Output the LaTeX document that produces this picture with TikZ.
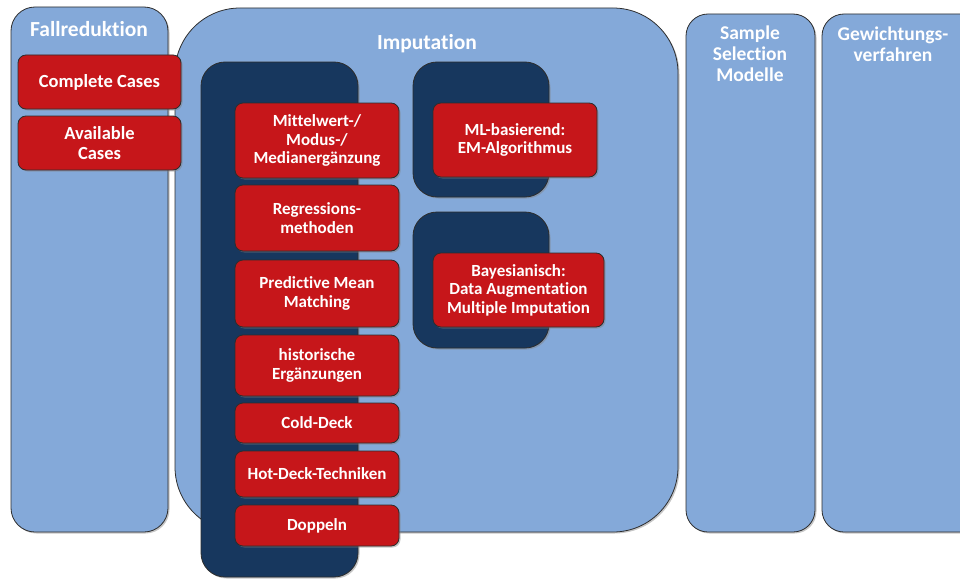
\documentclass[tikz,border=0pt]{standalone}
\usepackage{fontspec}
\setmainfont{Carlito}[Ligatures=NoCommon]
\usetikzlibrary{fit,shadows}
\definecolor{lightblue}{RGB}{132,169,217}
\definecolor{navy}{RGB}{23,55,94}
\definecolor{redfill}{RGB}{198,22,26}
\definecolor{edge}{RGB}{45,45,45}
\tikzset{
  shad/.style={drop shadow={opacity=0.45,shadow xshift=1.5pt,shadow yshift=-1.5pt}},
  outerbox/.style={draw=edge,line width=0.8pt,fill=lightblue,inner sep=0pt,shad},
  darkbox/.style={draw=edge,line width=0.8pt,fill=navy,inner sep=0pt,rounded corners=24pt,shad},
  redbox/.style={draw=edge,line width=0.8pt,fill=redfill,inner sep=0pt,rounded corners=8pt,shad},
  rtext/.style={text=white,font=\bfseries\fontsize{17}{18.5}\selectfont,align=center,inner sep=0pt},
  ftext/.style={rtext,font=\bfseries\fontsize{18.5}{20.5}\selectfont},
  title/.style={text=white,font=\bfseries\fontsize{19.5}{21}\selectfont,align=center,inner sep=0pt},
}
\begin{document}
\begin{tikzpicture}[x=1pt,y=-1pt]
\useasboundingbox (0,0) rectangle (960,578);
\clip (0,0) rectangle (960,578);
% outer containers
\node[outerbox,rounded corners=24pt,fit={(11,7)(168,532)}] (fall) {};
\node[outerbox,rounded corners=65pt,fit={(175,8)(678,532)}] (imp) {};
\node[outerbox,rounded corners=22pt,fit={(686,14)(815,532)}] (sample) {};
\node[outerbox,rounded corners=22pt,fit={(822,14)(985,532)}] (gew) {};
% titles
\node[title,font=\bfseries\fontsize{21.5}{23}\selectfont,anchor=base] (tfall) at (89,37) {Fallreduktion};
\node[title,font=\bfseries\fontsize{21.5}{23}\selectfont,anchor=base] (timp) at (427,50) {Imputation};
\node[title,anchor=north] (tsample) at (750,26) {Sample\\Selection\\Modelle};
\node[title,anchor=north] (tgew) at (893,27) {Gewichtungs-\\verfahren};
% Fallreduktion items
\node[redbox,fit={(18,55)(181,109)}] (cc) {};
\node[ftext] (cc-t) at (cc.center) {Complete Cases};
\node[redbox,fit={(18,116)(181,170)}] (ac) {};
\node[ftext] (ac-t) at (ac.center) {Available\\Cases};
% dark groups
\node[darkbox,fit={(201,62)(358,577)}] (d1) {};
\node[darkbox,fit={(413,62)(549,197)}] (d2) {};
\node[darkbox,fit={(413,212)(549,348)}] (d3) {};
% column items
\node[redbox,fit={(235,103)(399,178)}] (mw) {};
\node[rtext] (mw-t) at (mw.center) {Mittelwert-/\\Modus-/\\Medianergänzung};
\node[redbox,fit={(235,185)(399,251)}] (reg) {};
\node[rtext] (reg-t) at (reg.center) {Regressions-\\methoden};
\node[redbox,fit={(235,260)(399,327)}] (pmm) {};
\node[rtext] (pmm-t) at (pmm.center) {Predictive Mean\\Matching};
\node[redbox,fit={(235,335)(399,396)}] (hist) {};
\node[rtext] (hist-t) at (hist.center) {historische\\Ergänzungen};
\node[redbox,fit={(235,403)(399,443)}] (cold) {};
\node[rtext] (cold-t) at (cold.center) {Cold-Deck};
\node[redbox,fit={(235,451)(399,497)}] (hot) {};
\node[rtext] (hot-t) at (hot.center) {Hot-Deck-Techniken};
\node[redbox,fit={(235,505)(399,546)}] (dop) {};
\node[rtext] (dop-t) at (dop.center) {Doppeln};
% right items
\node[redbox,fit={(433,103)(597,177)}] (ml) {};
\node[rtext] (ml-t) at (ml.center) {ML-basierend:\\EM-Algorithmus};
\node[redbox,fit={(433,253)(604,327)}] (bay) {};
\node[rtext] (bay-t) at (bay.center) {Bayesianisch:\\Data Augmentation\\Multiple Imputation};
\end{tikzpicture}
\end{document}
